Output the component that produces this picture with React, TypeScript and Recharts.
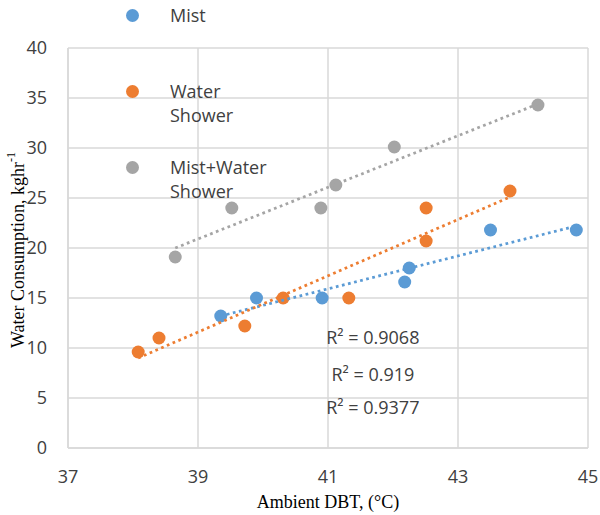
import { ScatterChart, Scatter, XAxis, YAxis, CartesianGrid, ReferenceDot } from 'recharts';

const mist = [
  { x: 39.35, y: 13.2 },
  { x: 39.9, y: 15.0 },
  { x: 40.91, y: 15.0 },
  { x: 42.18, y: 16.6 },
  { x: 42.25, y: 18.0 },
  { x: 43.5, y: 21.8 },
  { x: 44.82, y: 21.8 },
];

const waterShower = [
  { x: 38.08, y: 9.6 },
  { x: 38.4, y: 11.0 },
  { x: 39.72, y: 12.2 },
  { x: 40.31, y: 15.0 },
  { x: 41.32, y: 15.0 },
  { x: 42.51, y: 20.7 },
  { x: 42.51, y: 24.0 },
  { x: 43.8, y: 25.7 },
];

const mistWater = [
  { x: 38.65, y: 19.1 },
  { x: 39.52, y: 24.0 },
  { x: 40.89, y: 24.0 },
  { x: 41.12, y: 26.3 },
  { x: 42.02, y: 30.1 },
  { x: 44.23, y: 34.3 },
];

// linear trendline end points
const mistTrend = [{ x: 39.35, y: 13.2 }, { x: 44.82, y: 22.2 }];
const waterTrend = [{ x: 38.08, y: 9.0 }, { x: 43.8, y: 25.1 }];
const mistWaterTrend = [{ x: 38.65, y: 20.0 }, { x: 44.23, y: 34.4 }];

const r2Labels = [
  { x: 41.69, y: 11.0, text: 'R² = 0.9068' },
  { x: 41.69, y: 7.3, text: 'R² = 0.919' },
  { x: 41.69, y: 4.0, text: 'R² = 0.9377' },
];

const xTicks = [37, 39, 41, 43, 45];
const yTicks = [0, 5, 10, 15, 20, 25, 30, 35, 40];

const series = [
  { name: 'Mist', color: '#5B9BD5', data: mist, trend: mistTrend },
  { name: 'Water Shower', color: '#ED7D31', data: waterShower, trend: waterTrend },
  { name: 'Mist+Water Shower', color: '#A5A5A5', data: mistWater, trend: mistWaterTrend },
];

const SANS = '"Open Sans", "Liberation Sans", sans-serif';
const SERIF = '"Liberation Serif", "DejaVu Serif", serif';
const GRID = '#d9d9d9';
const TEXT = '#404040';

function dot(color: string) {
  return (p: any) => <circle cx={p.cx} cy={p.cy} r={6.5} fill={color} />;
}

function Legend() {
  return (
    <div style={{ position: 'absolute', left: 126, top: 3, fontFamily: SANS, fontSize: 18, color: TEXT }}>
      {series.map((s) => (
        <div key={s.name} style={{ position: 'relative', height: 76 }}>
          <div
            style={{
              position: 'absolute',
              left: 0,
              top: 5.5,
              width: 13,
              height: 13,
              borderRadius: '50%',
              background: s.color,
            }}
          />
          <div style={{ position: 'absolute', left: 44, top: 0, lineHeight: '24px', whiteSpace: 'nowrap' }}>
            {s.name.split(' ').map((w, i) => (
              <div key={i}>{w}</div>
            ))}
          </div>
        </div>
      ))}
    </div>
  );
}

export default function App() {
  return (
    <div style={{ position: 'absolute', left: 0, top: 0, width: 600, height: 515, background: '#fff' }}>
      <ScatterChart width={600} height={515} margin={{ top: 48, right: 12, bottom: 0, left: 0 }}>
        <CartesianGrid stroke={GRID} strokeWidth={1.5} />
        <XAxis
          type="number"
          dataKey="x"
          domain={[37, 45]}
          ticks={xTicks}
          height={67}
          stroke={GRID}
          strokeWidth={1.5}
          tickLine={false}
          tickSize={10}
          tickMargin={12}
          tick={{ fontSize: 18, fill: TEXT, fontFamily: SANS }}
          label={{
            content: () => (
              <text x={328} y={508} textAnchor="middle" fontFamily={SERIF} fontSize={18} fill="#000">
                Ambient DBT, (°C)
              </text>
            ),
          }}
        />
        <YAxis
          type="number"
          dataKey="y"
          domain={[0, 40]}
          ticks={yTicks}
          width={68}
          stroke={GRID}
          strokeWidth={1.5}
          tickLine={false}
          tickSize={10}
          tickMargin={11}
          tick={{ fontSize: 18, fill: TEXT, fontFamily: SANS }}
          label={{
            content: () => (
              <text
                transform="translate(18,250) rotate(-90)"
                textAnchor="middle"
                dominantBaseline="central"
                fontFamily={SERIF}
                fontSize={18}
                fill="#000"
              >
                Water Consumption, kghr
                <tspan fontSize={12} dy={-7}>-1</tspan>
              </text>
            ),
          }}
        />
        {series.map((s) => (
          <Scatter key={s.name} name={s.name} data={s.data} fill={s.color} shape={dot(s.color)} isAnimationActive={false} />
        ))}
        {series.map((s) => (
          <Scatter
            key={s.name + '-trend'}
            data={s.trend}
            line={{ stroke: s.color, strokeWidth: 2.75, strokeDasharray: '2.75 3.5' }}
            shape={() => null}
            legendType="none"
            isAnimationActive={false}
          />
        ))}
        {r2Labels.map((l) => (
          <ReferenceDot
            key={l.text}
            x={l.x}
            y={l.y}
            r={0}
            stroke="none"
            label={{ value: l.text, position: 'center', fontSize: 18, fill: TEXT, fontFamily: SANS }}
          />
        ))}
      </ScatterChart>
      <Legend />
    </div>
  );
}
